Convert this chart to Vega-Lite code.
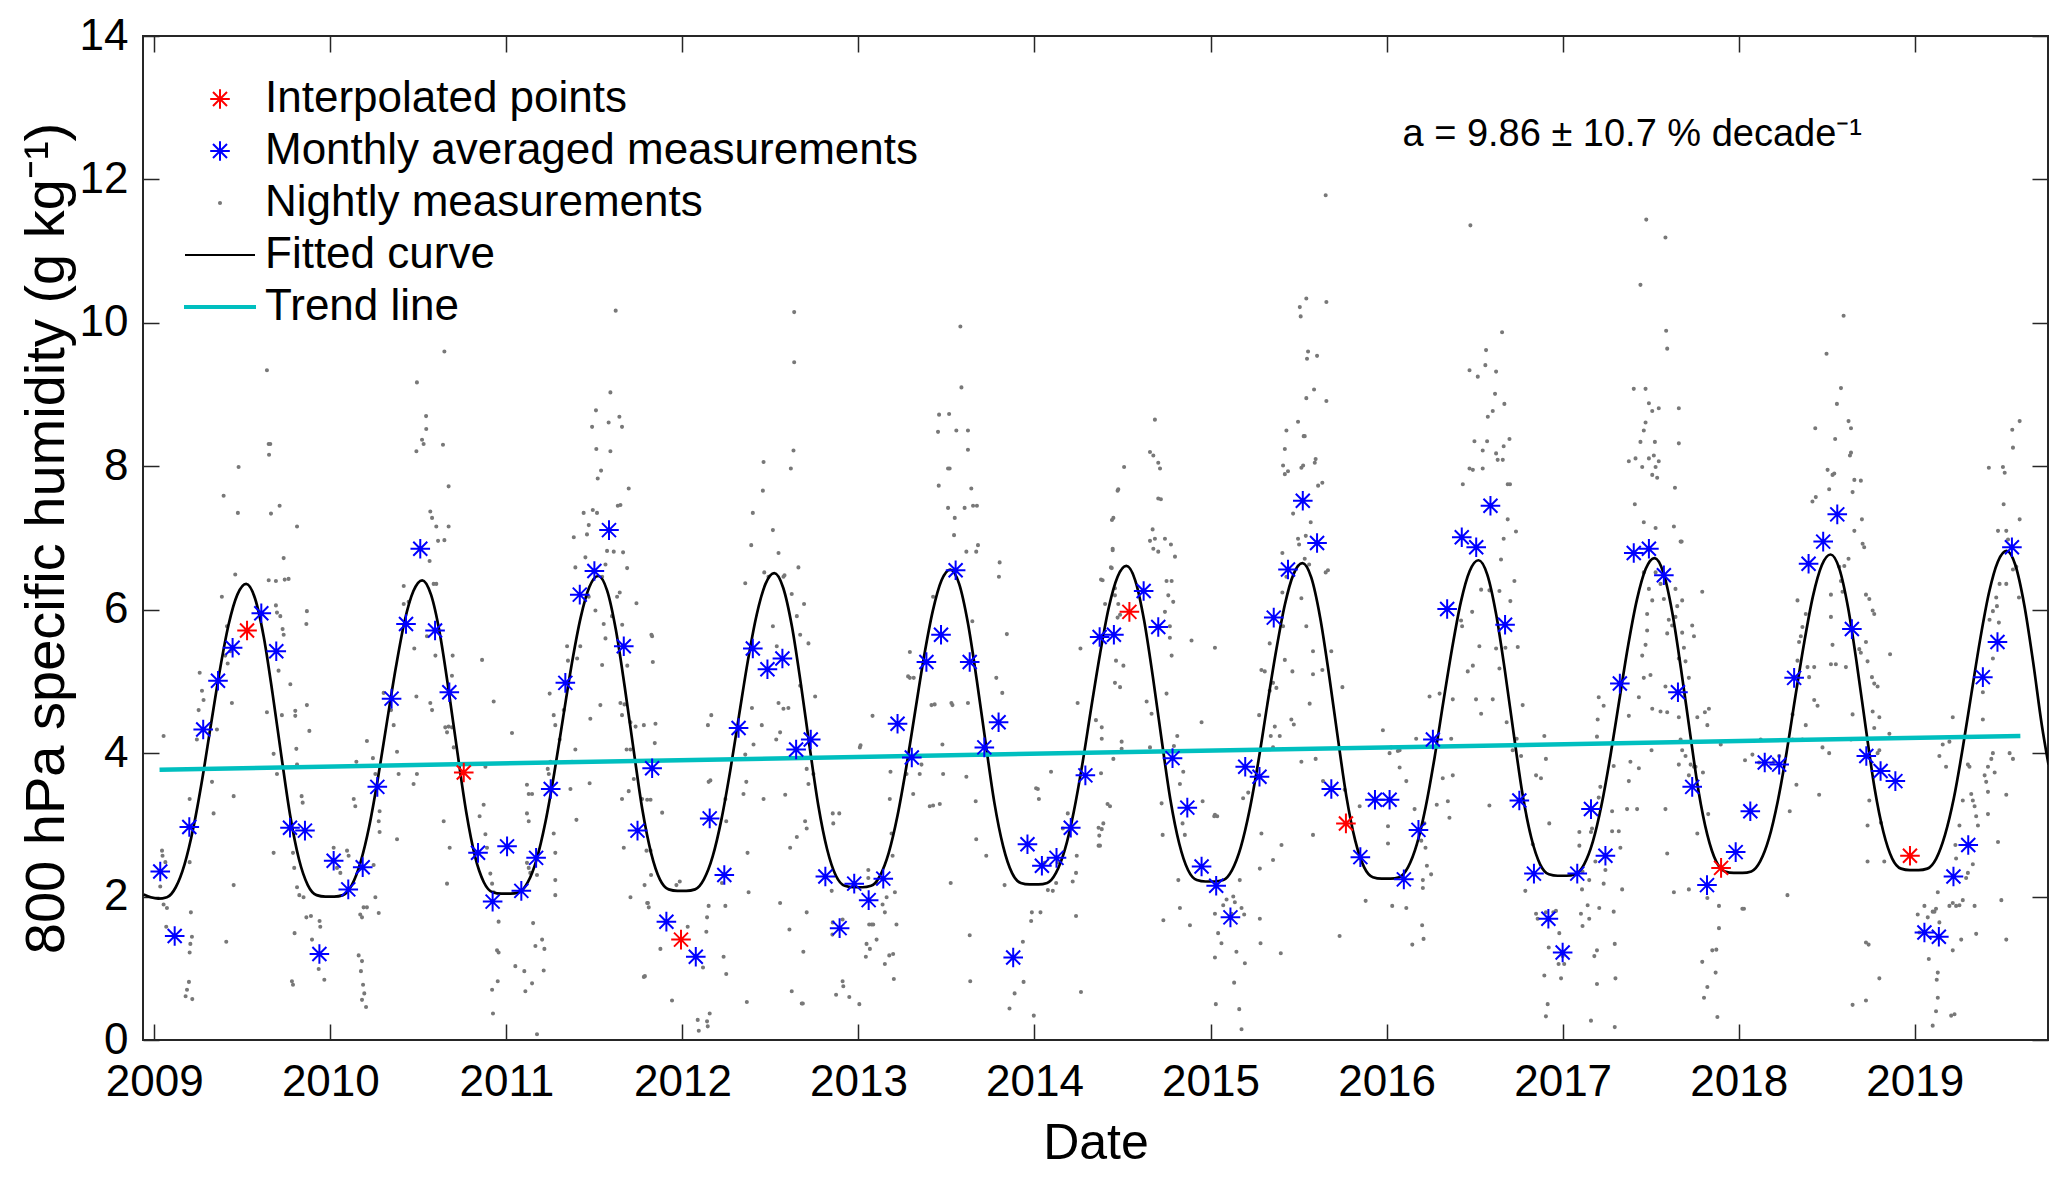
{
  "$schema": "https://vega.github.io/schema/vega-lite/v6.json",
  "description": "800 hPa specific humidity: nightly measurements, monthly averages, fitted seasonal curve and trend line, 2009-2019.",
  "width": 1905,
  "height": 1004,
  "autosize": {"type": "none"},
  "padding": {"left": 143, "top": 36, "right": 19, "bottom": 137},
  "background": "white",
  "datasets": {
    "nightly": [
      {"t":2009.053,"v":4.24},{"t":2009.044,"v":2.64},{"t":2009.047,"v":2.57},{"t":2009.063,"v":2.48},{"t":2009.034,"v":2.14},{"t":2009.053,"v":1.89},{"t":2009.072,"v":1.84},{"t":2009.068,"v":1.58},
      {"t":2009.201,"v":3.36},{"t":2009.201,"v":2.48},{"t":2009.208,"v":1.78},{"t":2009.214,"v":1.44},{"t":2009.205,"v":1.34},{"t":2009.201,"v":1.22},{"t":2009.197,"v":0.81},{"t":2009.186,"v":0.70},{"t":2009.178,"v":0.61},{"t":2009.216,"v":0.57},
      {"t":2009.258,"v":5.12},{"t":2009.271,"v":4.87},{"t":2009.280,"v":4.74},{"t":2009.252,"v":4.60},{"t":2009.242,"v":4.19},{"t":2009.328,"v":3.60},{"t":2009.337,"v":3.16},{"t":2009.356,"v":4.33},
      {"t":2009.384,"v":6.18},{"t":2009.394,"v":7.59},{"t":2009.403,"v":5.36},{"t":2009.417,"v":5.25},{"t":2009.432,"v":5.42},{"t":2009.413,"v":5.77},{"t":2009.441,"v":4.70},{"t":2009.451,"v":3.40},{"t":2009.460,"v":6.49},{"t":2009.475,"v":7.35},{"t":2009.479,"v":7.99},{"t":2009.451,"v":2.16},{"t":2009.409,"v":1.37},
      {"t":2009.650,"v":8.31},{"t":2009.659,"v":8.31},{"t":2009.652,"v":8.16},{"t":2009.640,"v":9.34},{"t":2009.663,"v":7.34},{"t":2009.712,"v":7.45},{"t":2009.691,"v":6.06},{"t":2009.697,"v":5.96},{"t":2009.716,"v":5.91},{"t":2009.650,"v":6.41},{"t":2009.691,"v":6.40},{"t":2009.741,"v":6.42},{"t":2009.763,"v":6.43},{"t":2009.735,"v":6.72},{"t":2009.729,"v":5.73},{"t":2009.735,"v":5.65},
      {"t":2009.706,"v":5.15},{"t":2009.678,"v":3.99},{"t":2009.697,"v":3.71},{"t":2009.678,"v":2.61},{"t":2009.640,"v":4.57},
      {"t":2009.725,"v":4.53},{"t":2009.773,"v":4.96},{"t":2009.801,"v":4.59},{"t":2009.801,"v":4.52},{"t":2009.807,"v":4.06},{"t":2009.811,"v":3.84},
      {"t":2009.811,"v":7.16},{"t":2009.867,"v":5.98},{"t":2009.864,"v":5.80},{"t":2009.867,"v":4.67},{"t":2009.881,"v":4.31},{"t":2009.837,"v":3.40},{"t":2009.843,"v":3.31},
      {"t":2009.788,"v":2.61},{"t":2009.795,"v":2.40},{"t":2009.824,"v":2.02},{"t":2009.848,"v":1.99},{"t":2009.811,"v":2.13},{"t":2009.864,"v":1.71},{"t":2009.890,"v":1.73},{"t":2009.939,"v":1.66},{"t":2009.896,"v":1.40},{"t":2009.943,"v":1.58},{"t":2009.934,"v":0.99},{"t":2009.797,"v":1.49},{"t":2009.782,"v":0.82},{"t":2009.788,"v":0.77},{"t":2009.966,"v":0.84},
      {"t":2010.019,"v":2.68},{"t":2010.095,"v":2.64},{"t":2010.104,"v":2.57},{"t":2010.038,"v":2.40},{"t":2010.057,"v":2.33},{"t":2010.133,"v":3.36},{"t":2010.142,"v":3.26},{"t":2010.148,"v":3.88},{"t":2010.208,"v":4.17},
      {"t":2010.161,"v":1.18},{"t":2010.180,"v":1.10},{"t":2010.174,"v":0.96},{"t":2010.186,"v":0.77},{"t":2010.193,"v":0.65},{"t":2010.180,"v":0.56},{"t":2010.203,"v":0.46},{"t":2010.170,"v":1.75},{"t":2010.189,"v":1.85},{"t":2010.208,"v":1.85},{"t":2010.180,"v":1.71},
      {"t":2010.242,"v":3.93},{"t":2010.256,"v":3.71},{"t":2010.280,"v":3.19},{"t":2010.275,"v":3.05},{"t":2010.280,"v":2.90},{"t":2010.246,"v":2.44},{"t":2010.256,"v":1.99},{"t":2010.275,"v":1.77},
      {"t":2010.303,"v":4.84},{"t":2010.345,"v":4.60},{"t":2010.360,"v":4.39},{"t":2010.379,"v":4.02},{"t":2010.388,"v":3.71},{"t":2010.379,"v":2.80},
      {"t":2010.417,"v":6.33},{"t":2010.417,"v":6.08},{"t":2010.445,"v":6.11},{"t":2010.477,"v":5.46},{"t":2010.489,"v":4.79},
      {"t":2010.492,"v":9.17},{"t":2010.544,"v":8.70},{"t":2010.545,"v":8.52},{"t":2010.521,"v":8.37},{"t":2010.530,"v":8.31},{"t":2010.489,"v":8.21},{"t":2010.640,"v":8.30},{"t":2010.648,"v":9.60},{"t":2010.672,"v":7.72},
      {"t":2010.568,"v":7.37},{"t":2010.578,"v":7.28},{"t":2010.602,"v":7.16},{"t":2010.612,"v":6.96},{"t":2010.648,"v":6.97},{"t":2010.672,"v":7.16},{"t":2010.564,"v":6.68},{"t":2010.587,"v":6.36},{"t":2010.602,"v":6.36},
      {"t":2010.549,"v":5.63},{"t":2010.597,"v":5.36},{"t":2010.473,"v":3.57},{"t":2010.492,"v":3.71},{"t":2010.568,"v":4.70},{"t":2010.578,"v":4.60},
      {"t":2010.653,"v":4.36},{"t":2010.663,"v":4.29},{"t":2010.672,"v":4.37},{"t":2010.695,"v":5.36},{"t":2010.691,"v":5.08},{"t":2010.691,"v":4.36},{"t":2010.701,"v":4.08},{"t":2010.644,"v":3.05},{"t":2010.678,"v":2.68},{"t":2010.663,"v":2.18},
      {"t":2010.862,"v":5.30},{"t":2010.928,"v":4.72},{"t":2011.032,"v":4.28},
      {"t":2010.881,"v":3.81},{"t":2010.871,"v":3.28},{"t":2010.848,"v":3.12},{"t":2010.881,"v":2.87},{"t":2010.890,"v":2.68},{"t":2010.909,"v":2.32},{"t":2010.919,"v":2.18},{"t":2010.928,"v":2.06},{"t":2010.956,"v":1.65},{"t":2010.947,"v":1.25},{"t":2010.956,"v":1.22},{"t":2010.951,"v":0.82},{"t":2010.919,"v":0.70},{"t":2010.924,"v":0.37},
      {"t":2011.117,"v":3.56},{"t":2011.127,"v":3.43},{"t":2011.146,"v":3.43},{"t":2011.117,"v":3.16},{"t":2011.127,"v":3.05},{"t":2011.117,"v":2.47},{"t":2011.127,"v":2.40},{"t":2011.136,"v":2.33},
      {"t":2011.051,"v":1.03},{"t":2011.102,"v":0.96},{"t":2011.108,"v":0.68},{"t":2011.146,"v":0.79},{"t":2011.152,"v":1.63},{"t":2011.165,"v":1.31},{"t":2011.174,"v":0.08},{"t":2011.203,"v":1.40},{"t":2011.216,"v":1.27},{"t":2011.212,"v":0.97},{"t":2011.174,"v":2.30},
      {"t":2011.241,"v":3.71},{"t":2011.235,"v":3.78},{"t":2011.250,"v":3.88},{"t":2011.269,"v":2.88},{"t":2011.278,"v":2.61},{"t":2011.278,"v":2.23},{"t":2011.278,"v":2.02},
      {"t":2011.246,"v":4.83},{"t":2011.269,"v":4.53},{"t":2011.278,"v":4.39},
      {"t":2011.303,"v":4.19},{"t":2011.326,"v":4.60},{"t":2011.345,"v":5.49},{"t":2011.350,"v":5.29},{"t":2011.402,"v":5.32},{"t":2011.383,"v":7.01},{"t":2011.420,"v":5.49},
      {"t":2011.392,"v":6.59},{"t":2011.449,"v":6.73},{"t":2011.468,"v":6.18},{"t":2011.473,"v":3.58},{"t":2011.364,"v":3.50},{"t":2011.373,"v":3.88},{"t":2011.392,"v":4.05},{"t":2011.398,"v":3.07},
      {"t":2011.439,"v":7.35},{"t":2011.458,"v":7.05},{"t":2011.468,"v":7.18},{"t":2011.491,"v":7.39},{"t":2011.515,"v":7.35},{"t":2011.519,"v":7.83},{"t":2011.538,"v":7.94},{"t":2011.591,"v":8.21},{"t":2011.511,"v":8.24},{"t":2011.487,"v":8.55},{"t":2011.509,"v":8.78},{"t":2011.581,"v":8.61},{"t":2011.591,"v":9.03},{"t":2011.642,"v":8.69},{"t":2011.657,"v":8.55},{"t":2011.621,"v":10.17},{"t":2011.633,"v":7.45},{"t":2011.648,"v":7.46},{"t":2011.695,"v":7.69},
      {"t":2011.544,"v":6.46},{"t":2011.563,"v":6.63},{"t":2011.572,"v":6.82},{"t":2011.610,"v":6.81},{"t":2011.663,"v":6.80},{"t":2011.686,"v":6.58},
      {"t":2011.506,"v":5.99},{"t":2011.553,"v":5.80},{"t":2011.563,"v":5.60},{"t":2011.544,"v":5.23},{"t":2011.600,"v":5.91},{"t":2011.629,"v":6.18},{"t":2011.644,"v":6.24},
      {"t":2011.534,"v":4.67},{"t":2011.477,"v":4.48},{"t":2011.648,"v":4.70},{"t":2011.657,"v":4.53},{"t":2011.705,"v":4.05},{"t":2011.695,"v":3.47},
      {"t":2011.657,"v":3.36},{"t":2011.667,"v":2.68},{"t":2011.705,"v":1.99},
      {"t":2011.658,"v":5.79},{"t":2011.687,"v":5.22},{"t":2011.671,"v":4.68},{"t":2011.705,"v":4.43},{"t":2011.683,"v":4.05},{"t":2011.734,"v":4.37},{"t":2011.781,"v":4.39},
      {"t":2011.847,"v":4.41},{"t":2011.824,"v":5.65},{"t":2011.828,"v":5.63},{"t":2011.832,"v":5.27},{"t":2011.843,"v":4.14},{"t":2011.739,"v":6.09},
      {"t":2011.724,"v":3.64},{"t":2011.771,"v":3.36},{"t":2011.800,"v":3.35},{"t":2011.819,"v":3.35},
      {"t":2011.796,"v":2.64},{"t":2011.819,"v":2.64},{"t":2011.885,"v":3.17},{"t":2011.804,"v":1.91},{"t":2011.800,"v":1.91},{"t":2011.809,"v":1.85},{"t":2011.785,"v":2.16},{"t":2011.822,"v":2.30},
      {"t":2011.875,"v":1.27},{"t":2011.787,"v":0.89},{"t":2011.781,"v":0.88},{"t":2011.941,"v":0.55},{"t":2011.966,"v":2.16},{"t":2011.985,"v":2.21},
      {"t":2012.030,"v":1.58},{"t":2012.087,"v":0.28},{"t":2012.093,"v":0.13},{"t":2012.140,"v":0.26},{"t":2012.144,"v":0.19},{"t":2012.155,"v":0.37},{"t":2012.117,"v":1.01},{"t":2012.136,"v":1.51},{"t":2012.149,"v":1.87},{"t":2012.140,"v":1.71},
      {"t":2012.234,"v":1.16},{"t":2012.249,"v":0.92},{"t":2012.244,"v":1.87},{"t":2012.149,"v":3.60},{"t":2012.159,"v":3.62},{"t":2012.164,"v":4.53},{"t":2012.145,"v":4.39},{"t":2012.225,"v":2.19},{"t":2012.249,"v":3.05},{"t":2012.244,"v":3.36},
      {"t":2012.363,"v":3.60},{"t":2012.357,"v":3.98},{"t":2012.347,"v":3.43},{"t":2012.370,"v":2.61},{"t":2012.376,"v":2.06},{"t":2012.366,"v":0.53},{"t":2012.395,"v":4.63},{"t":2012.404,"v":4.12},{"t":2012.357,"v":6.37},
      {"t":2012.391,"v":6.90},{"t":2012.400,"v":7.35},{"t":2012.457,"v":7.66},{"t":2012.461,"v":8.06},{"t":2012.514,"v":7.11},{"t":2012.546,"v":6.79},{"t":2012.616,"v":7.97},{"t":2012.631,"v":8.22},{"t":2012.635,"v":9.45},{"t":2012.635,"v":10.15},{"t":2012.659,"v":6.59},
      {"t":2012.465,"v":6.52},{"t":2012.489,"v":6.46},{"t":2012.514,"v":5.77},{"t":2012.536,"v":5.49},{"t":2012.574,"v":6.46},{"t":2012.580,"v":6.48},{"t":2012.621,"v":6.22},{"t":2012.650,"v":5.91},{"t":2012.669,"v":5.65},{"t":2012.691,"v":6.08},{"t":2012.716,"v":5.53},{"t":2012.669,"v":4.94},
      {"t":2012.451,"v":4.39},{"t":2012.533,"v":4.19},{"t":2012.555,"v":4.29},{"t":2012.574,"v":4.62},{"t":2012.602,"v":4.63},{"t":2012.546,"v":4.70},{"t":2012.461,"v":3.36},
      {"t":2012.584,"v":3.42},{"t":2012.555,"v":1.91},{"t":2012.608,"v":1.54},{"t":2012.621,"v":0.68},{"t":2012.678,"v":0.51},{"t":2012.612,"v":2.68},{"t":2012.650,"v":2.83},{"t":2012.706,"v":1.78},{"t":2012.687,"v":1.23},
      {"t":2012.706,"v":3.78},{"t":2012.716,"v":3.57},{"t":2012.744,"v":3.71},{"t":2012.697,"v":3.05},{"t":2012.706,"v":2.95},{"t":2012.754,"v":4.79},
      {"t":2012.854,"v":3.16},{"t":2012.891,"v":3.16},{"t":2012.857,"v":3.02},{"t":2012.848,"v":2.08},{"t":2013.008,"v":4.08},{"t":2013.012,"v":4.11},
      {"t":2012.854,"v":1.64},{"t":2012.852,"v":1.47},{"t":2012.910,"v":1.68},{"t":2012.873,"v":0.63},{"t":2012.910,"v":0.82},{"t":2012.914,"v":0.75},{"t":2012.948,"v":0.60},{"t":2013.005,"v":0.50},{"t":2012.684,"v":0.51},
      {"t":2013.056,"v":2.37},{"t":2013.056,"v":2.26},{"t":2013.061,"v":1.61},{"t":2013.075,"v":1.61},{"t":2013.084,"v":1.61},{"t":2013.103,"v":1.40},{"t":2013.065,"v":1.27},{"t":2013.046,"v":1.34},{"t":2013.042,"v":1.16},{"t":2013.150,"v":1.06},{"t":2013.175,"v":1.18},{"t":2013.197,"v":1.20},{"t":2013.201,"v":0.85},
      {"t":2013.103,"v":2.19},{"t":2013.137,"v":1.89},{"t":2013.150,"v":1.78},{"t":2013.160,"v":1.99},{"t":2013.216,"v":1.61},
      {"t":2013.080,"v":4.52},{"t":2013.182,"v":3.74},{"t":2013.178,"v":3.36},{"t":2013.188,"v":2.88},{"t":2013.194,"v":2.57},{"t":2013.207,"v":2.06},
      {"t":2013.282,"v":5.07},{"t":2013.292,"v":5.05},{"t":2013.314,"v":5.05},{"t":2013.292,"v":5.41},{"t":2013.273,"v":3.71},{"t":2013.311,"v":3.43},{"t":2013.348,"v":3.71},{"t":2013.358,"v":3.84},
      {"t":2013.415,"v":4.67},{"t":2013.433,"v":4.68},{"t":2013.424,"v":3.27},{"t":2013.405,"v":3.26},{"t":2013.477,"v":4.12},{"t":2013.481,"v":3.71},{"t":2013.462,"v":3.29},
      {"t":2013.424,"v":6.18},{"t":2013.452,"v":8.48},{"t":2013.458,"v":8.72},{"t":2013.515,"v":8.73},{"t":2013.509,"v":7.97},{"t":2013.518,"v":7.97},{"t":2013.579,"v":9.95},{"t":2013.585,"v":9.10},{"t":2013.556,"v":8.50},{"t":2013.622,"v":8.50},{"t":2013.622,"v":8.23},{"t":2013.641,"v":7.69},{"t":2013.673,"v":7.45},{"t":2013.679,"v":6.90},{"t":2013.651,"v":7.45},{"t":2013.603,"v":7.42},{"t":2013.547,"v":7.28},{"t":2013.456,"v":7.73},{"t":2013.509,"v":7.42},
      {"t":2013.528,"v":4.70},{"t":2013.534,"v":4.67},{"t":2013.543,"v":7.04},{"t":2013.613,"v":6.81},{"t":2013.669,"v":6.81},{"t":2013.647,"v":5.84},{"t":2013.622,"v":4.70},
      {"t":2013.613,"v":3.67},{"t":2013.666,"v":3.33},{"t":2013.669,"v":2.80},{"t":2013.726,"v":2.57},{"t":2013.632,"v":1.46},{"t":2013.635,"v":0.82},{"t":2013.524,"v":2.19},
      {"t":2013.783,"v":5.05},{"t":2013.817,"v":4.84},{"t":2013.798,"v":6.46},{"t":2013.802,"v":6.66},{"t":2013.843,"v":5.66},
      {"t":2013.830,"v":2.16},{"t":2013.858,"v":0.44},{"t":2013.887,"v":0.65},{"t":2013.934,"v":1.37},{"t":2013.938,"v":0.81},{"t":2013.981,"v":1.66},{"t":2013.985,"v":1.78},{"t":2014.009,"v":3.51},{"t":2014.019,"v":3.50},{"t":2014.025,"v":3.36},{"t":2013.996,"v":0.34},
      {"t":2014.034,"v":1.78},{"t":2014.076,"v":2.09},{"t":2014.057,"v":2.47},{"t":2014.104,"v":2.08},{"t":2014.123,"v":2.19},{"t":2014.132,"v":2.48},{"t":2014.217,"v":2.21},{"t":2014.236,"v":2.33},{"t":2014.236,"v":1.73},{"t":2014.264,"v":0.67},{"t":2014.240,"v":2.57},
      {"t":2014.094,"v":3.74},{"t":2014.161,"v":2.95},{"t":2014.189,"v":3.16},{"t":2014.245,"v":4.70},{"t":2014.261,"v":5.46},
      {"t":2014.364,"v":2.96},{"t":2014.364,"v":2.71},{"t":2014.368,"v":2.85},{"t":2014.378,"v":3.72},{"t":2014.349,"v":4.46},{"t":2014.378,"v":6.42},{"t":2014.434,"v":6.59},{"t":2014.444,"v":6.83},{"t":2014.440,"v":7.25},{"t":2014.472,"v":7.66},{"t":2014.457,"v":6.30},{"t":2014.472,"v":5.89},{"t":2014.463,"v":5.29},{"t":2014.415,"v":3.29},
      {"t":2014.509,"v":7.99},{"t":2014.476,"v":7.68},{"t":2014.448,"v":7.28},{"t":2014.444,"v":6.85},{"t":2014.439,"v":6.58},{"t":2014.387,"v":6.41},{"t":2014.457,"v":6.20},{"t":2014.401,"v":6.08},{"t":2014.476,"v":6.08},{"t":2014.486,"v":5.93},{"t":2014.505,"v":5.22},{"t":2014.457,"v":4.98},{"t":2014.486,"v":4.92},{"t":2014.382,"v":4.36},{"t":2014.429,"v":3.26},{"t":2014.391,"v":3.02},{"t":2014.382,"v":2.94},{"t":2014.372,"v":2.71},{"t":2014.448,"v":3.92},{"t":2014.495,"v":4.16},{"t":2014.495,"v":4.06},{"t":2014.382,"v":4.20},
      {"t":2014.684,"v":8.65},{"t":2014.656,"v":8.20},{"t":2014.675,"v":8.15},{"t":2014.703,"v":8.05},{"t":2014.713,"v":7.97},{"t":2014.703,"v":7.55},{"t":2014.718,"v":7.54},{"t":2014.671,"v":7.12},{"t":2014.684,"v":6.99},{"t":2014.656,"v":6.96},{"t":2014.675,"v":6.85},{"t":2014.703,"v":6.81},{"t":2014.741,"v":6.99},{"t":2014.775,"v":6.91},{"t":2014.798,"v":6.74},{"t":2014.750,"v":6.40},{"t":2014.779,"v":6.40},{"t":2014.760,"v":6.20},{"t":2014.741,"v":5.97},{"t":2014.788,"v":6.11},{"t":2014.769,"v":5.77},{"t":2014.769,"v":5.61},{"t":2014.779,"v":5.36},{"t":2014.637,"v":4.72},{"t":2014.665,"v":4.55},{"t":2014.656,"v":4.08},{"t":2014.750,"v":4.83},{"t":2014.722,"v":3.30},{"t":2014.728,"v":2.86},{"t":2014.732,"v":1.67},{"t":2014.792,"v":4.10},{"t":2014.811,"v":4.24},{"t":2014.826,"v":3.57},{"t":2014.845,"v":3.74},{"t":2014.841,"v":3.02},{"t":2014.854,"v":2.86},{"t":2014.817,"v":2.23},{"t":2014.826,"v":1.84},{"t":2014.883,"v":1.60},{"t":2014.892,"v":5.57},{"t":2014.949,"v":4.43},{"t":2014.955,"v":3.33},
      {"t":2015.025,"v":5.47},{"t":2015.025,"v":3.14},{"t":2015.038,"v":3.12},{"t":2015.021,"v":3.12},{"t":2015.025,"v":1.76},{"t":2015.030,"v":0.50},{"t":2015.043,"v":1.49},{"t":2015.025,"v":1.15},{"t":2015.062,"v":1.35},{"t":2015.072,"v":1.88},{"t":2015.091,"v":1.96},{"t":2015.119,"v":1.76},{"t":2015.129,"v":2.00},{"t":2015.138,"v":1.92},{"t":2015.147,"v":1.23},{"t":2015.134,"v":0.80},{"t":2015.163,"v":0.43},{"t":2015.176,"v":0.15},{"t":2015.166,"v":2.23},{"t":2015.176,"v":1.84},{"t":2015.191,"v":1.75},{"t":2015.195,"v":1.07},{"t":2015.185,"v":3.37},{"t":2015.214,"v":3.45},{"t":2015.280,"v":1.69},{"t":2015.284,"v":1.35},{"t":2015.280,"v":2.39},{"t":2015.289,"v":2.88},{"t":2015.276,"v":4.53},{"t":2015.289,"v":5.16},{"t":2015.308,"v":5.14},{"t":2015.336,"v":5.53},{"t":2015.355,"v":4.98},{"t":2015.336,"v":4.87},{"t":2015.342,"v":4.24},{"t":2015.365,"v":4.37},{"t":2015.393,"v":4.24},{"t":2015.355,"v":2.51},{"t":2015.403,"v":2.72},{"t":2015.399,"v":1.21},
      {"t":2015.422,"v":8.24},{"t":2015.412,"v":8.01},{"t":2015.431,"v":8.50},{"t":2015.497,"v":8.62},{"t":2015.529,"v":8.42},{"t":2015.535,"v":8.42},{"t":2015.516,"v":7.98},{"t":2015.526,"v":8.01},{"t":2015.597,"v":8.10},{"t":2015.592,"v":8.05},{"t":2015.611,"v":7.73},{"t":2015.635,"v":7.77},{"t":2015.658,"v":8.91},{"t":2015.658,"v":10.29},{"t":2015.654,"v":11.78},{"t":2015.605,"v":9.54},{"t":2015.554,"v":9.60},{"t":2015.548,"v":9.50},{"t":2015.507,"v":10.22},{"t":2015.512,"v":10.09},{"t":2015.544,"v":10.34},{"t":2015.588,"v":9.07},{"t":2015.544,"v":8.95},{"t":2015.422,"v":7.89},{"t":2015.440,"v":7.93},{"t":2015.497,"v":6.99},{"t":2015.503,"v":6.91},{"t":2015.469,"v":7.34},{"t":2015.541,"v":7.03},{"t":2015.535,"v":6.71},{"t":2015.569,"v":7.22},{"t":2015.560,"v":6.63},{"t":2015.516,"v":6.16},{"t":2015.544,"v":5.77},{"t":2015.582,"v":5.42},{"t":2015.635,"v":5.16},{"t":2015.582,"v":5.10},{"t":2015.465,"v":5.14},{"t":2015.422,"v":5.30},{"t":2015.431,"v":6.46},{"t":2015.408,"v":6.24},{"t":2015.408,"v":6.79},{"t":2015.412,"v":5.77},{"t":2015.374,"v":4.91},{"t":2015.355,"v":4.08},{"t":2015.459,"v":4.47},{"t":2015.473,"v":4.40},{"t":2015.516,"v":3.88},{"t":2015.563,"v":4.69},{"t":2015.597,"v":3.92},{"t":2015.639,"v":3.61},{"t":2015.667,"v":6.55},{"t":2015.654,"v":6.52},{"t":2015.686,"v":5.42},{"t":2015.749,"v":4.92},{"t":2015.762,"v":3.49},{"t":2015.733,"v":1.45},{"t":2015.847,"v":3.26},{"t":2015.582,"v":2.86},
      {"t":2015.979,"v":4.32},{"t":2016.017,"v":4.00},{"t":2016.026,"v":4.08},{"t":2016.064,"v":4.03},{"t":2016.074,"v":4.04},{"t":2016.008,"v":2.98},{"t":2016.008,"v":2.74},{"t":2016.032,"v":1.87},{"t":2016.112,"v":1.84},{"t":2016.146,"v":1.33},{"t":2016.202,"v":1.60},{"t":2016.210,"v":1.41},{"t":2016.206,"v":2.12},{"t":2016.197,"v":2.78},{"t":2016.215,"v":3.02},{"t":2016.221,"v":2.68},{"t":2016.229,"v":2.43},{"t":2016.253,"v":2.31},{"t":2016.074,"v":3.80},{"t":2016.112,"v":3.61},{"t":2016.159,"v":3.22},{"t":2016.206,"v":2.23},{"t":2016.244,"v":4.79},{"t":2016.301,"v":4.83},{"t":2016.285,"v":3.28},{"t":2016.319,"v":3.65},{"t":2016.367,"v":4.20},{"t":2016.376,"v":3.69},{"t":2016.348,"v":3.33},{"t":2016.357,"v":3.10},{"t":2016.168,"v":4.20},{"t":2015.881,"v":1.94},
      {"t":2016.471,"v":9.34},{"t":2016.518,"v":9.25},{"t":2016.565,"v":9.62},{"t":2016.561,"v":9.41},{"t":2016.622,"v":9.32},{"t":2016.616,"v":9.01},{"t":2016.603,"v":8.77},{"t":2016.575,"v":8.69},{"t":2016.669,"v":8.87},{"t":2016.656,"v":9.87},{"t":2016.476,"v":11.36},{"t":2016.433,"v":7.75},{"t":2016.471,"v":7.97},{"t":2016.490,"v":7.95},{"t":2016.499,"v":8.35},{"t":2016.546,"v":7.97},{"t":2016.571,"v":8.35},{"t":2016.546,"v":8.22},{"t":2016.622,"v":8.18},{"t":2016.665,"v":8.28},{"t":2016.698,"v":8.38},{"t":2016.688,"v":7.75},{"t":2016.701,"v":7.75},{"t":2016.631,"v":8.09},{"t":2016.660,"v":8.09},{"t":2016.735,"v":7.09},{"t":2016.688,"v":7.26},{"t":2016.650,"v":6.70},{"t":2016.665,"v":6.99},{"t":2016.584,"v":6.27},{"t":2016.641,"v":6.26},{"t":2016.726,"v":6.40},{"t":2016.703,"v":6.12},{"t":2016.461,"v":5.14},{"t":2016.490,"v":5.22},{"t":2016.527,"v":5.49},{"t":2016.508,"v":4.75},{"t":2016.537,"v":4.55},{"t":2016.584,"v":3.27},{"t":2016.622,"v":5.46},{"t":2016.675,"v":5.47},{"t":2016.603,"v":4.75},{"t":2016.641,"v":5.18},{"t":2016.682,"v":4.43},{"t":2016.745,"v":5.48},{"t":2016.739,"v":4.20},{"t":2016.773,"v":4.67},{"t":2016.764,"v":3.96},{"t":2016.716,"v":4.04},{"t":2016.423,"v":5.85},{"t":2016.429,"v":5.77},{"t":2016.376,"v":4.75},{"t":2016.486,"v":5.97},{"t":2016.537,"v":6.28},
      {"t":2016.788,"v":2.08},{"t":2016.830,"v":2.73},{"t":2016.849,"v":3.69},{"t":2016.877,"v":3.65},{"t":2016.896,"v":4.24},{"t":2016.905,"v":3.92},{"t":2016.924,"v":3.02},{"t":2016.849,"v":1.76},{"t":2016.858,"v":1.69},{"t":2016.905,"v":1.78},{"t":2016.947,"v":1.78},{"t":2016.921,"v":1.29},{"t":2016.896,"v":0.90},{"t":2016.915,"v":0.50},{"t":2016.905,"v":0.33},{"t":2016.962,"v":1.80},{"t":2016.981,"v":1.49},{"t":2016.977,"v":1.06},{"t":2017.000,"v":1.17},{"t":2016.991,"v":0.86},{"t":2017.009,"v":1.06},{"t":2017.104,"v":1.76},{"t":2017.113,"v":1.59},{"t":2017.142,"v":1.88},{"t":2017.151,"v":1.69},{"t":2017.161,"v":0.27},{"t":2017.180,"v":1.17},{"t":2017.095,"v":2.71},{"t":2017.113,"v":2.35},{"t":2017.095,"v":2.90},{"t":2017.199,"v":4.47},{"t":2017.208,"v":1.84},{"t":2017.151,"v":2.23},{"t":2017.161,"v":2.90},
      {"t":2017.110,"v":2.10},{"t":2017.195,"v":1.25},{"t":2017.195,"v":0.78},{"t":2017.186,"v":2.49},{"t":2017.167,"v":2.95},{"t":2017.205,"v":3.38},{"t":2017.195,"v":4.23},{"t":2017.214,"v":3.53},{"t":2017.233,"v":4.66},{"t":2017.205,"v":4.78},{"t":2017.290,"v":3.82},{"t":2017.281,"v":2.91},{"t":2017.319,"v":2.91},{"t":2017.328,"v":2.68},{"t":2017.281,"v":3.19},{"t":2017.243,"v":2.37},{"t":2017.233,"v":2.18},{"t":2017.290,"v":1.79},{"t":2017.296,"v":1.34},{"t":2017.300,"v":0.86},{"t":2017.296,"v":0.18},{"t":2017.338,"v":2.10},{"t":2017.366,"v":3.22},{"t":2017.376,"v":3.61},{"t":2017.385,"v":3.88},{"t":2017.433,"v":3.79},{"t":2017.423,"v":3.22},{"t":2017.376,"v":4.52},{"t":2017.433,"v":4.78},{"t":2017.471,"v":5.51},{"t":2017.461,"v":5.05},{"t":2017.499,"v":5.09},{"t":2017.509,"v":4.62},{"t":2017.505,"v":4.04},{"t":2017.556,"v":4.58},{"t":2017.584,"v":4.93},{"t":2017.594,"v":4.57},{"t":2017.660,"v":4.50},{"t":2017.670,"v":4.19},{"t":2017.660,"v":3.84},{"t":2017.679,"v":4.04},{"t":2017.698,"v":3.96},{"t":2017.727,"v":3.84},{"t":2017.746,"v":3.81},{"t":2017.755,"v":3.81},{"t":2017.797,"v":3.73},{"t":2017.765,"v":4.50},{"t":2017.808,"v":4.57},{"t":2017.831,"v":4.62},{"t":2017.822,"v":4.39},{"t":2017.717,"v":3.69},{"t":2017.765,"v":2.88},{"t":2017.827,"v":3.15},{"t":2017.717,"v":2.10},{"t":2017.594,"v":2.60},{"t":2017.632,"v":2.06},{"t":2017.584,"v":3.22},{"t":2017.793,"v":1.09},{"t":2017.822,"v":0.74},{"t":2017.822,"v":1.98},{"t":2017.888,"v":1.87},{"t":2017.888,"v":1.56},{"t":2017.873,"v":1.26},{"t":2017.869,"v":0.94},{"t":2017.879,"v":0.32},{"t":2017.850,"v":1.25},{"t":2017.898,"v":4.12},{"t":2017.803,"v":0.59},
      {"t":2017.793,"v":6.25},{"t":2017.679,"v":5.68},{"t":2017.689,"v":5.47},{"t":2017.698,"v":5.28},{"t":2017.717,"v":5.05},{"t":2017.660,"v":5.32},{"t":2017.641,"v":5.90},{"t":2017.651,"v":6.05},{"t":2017.622,"v":5.78},{"t":2017.594,"v":5.67},{"t":2017.603,"v":5.86},{"t":2017.575,"v":6.15},{"t":2017.556,"v":6.36},{"t":2017.528,"v":6.52},{"t":2017.490,"v":6.29},{"t":2017.461,"v":6.52},{"t":2017.461,"v":7.22},{"t":2017.528,"v":7.14},{"t":2017.509,"v":6.13},{"t":2017.480,"v":5.94},{"t":2017.480,"v":5.71},{"t":2017.452,"v":5.36},{"t":2017.509,"v":7.88},{"t":2017.528,"v":7.99},{"t":2017.546,"v":8.07},{"t":2017.537,"v":7.84},{"t":2017.518,"v":8.15},{"t":2017.490,"v":8.11},{"t":2017.452,"v":7.99},{"t":2017.414,"v":8.11},{"t":2017.376,"v":8.07},{"t":2017.410,"v":7.47},{"t":2017.442,"v":8.34},{"t":2017.461,"v":8.50},{"t":2017.471,"v":8.61},{"t":2017.490,"v":8.88},{"t":2017.509,"v":8.77},{"t":2017.546,"v":8.81},{"t":2017.524,"v":8.34},{"t":2017.404,"v":9.08},{"t":2017.471,"v":9.08},{"t":2017.442,"v":10.53},{"t":2017.475,"v":11.44},{"t":2017.584,"v":11.19},{"t":2017.588,"v":9.89},{"t":2017.594,"v":9.64},{"t":2017.660,"v":8.81},{"t":2017.660,"v":8.32},{"t":2017.638,"v":7.70},{"t":2017.632,"v":7.16},{"t":2017.676,"v":6.95},{"t":2017.670,"v":6.95},{"t":2017.641,"v":6.29},{"t":2017.679,"v":6.13},{"t":2017.736,"v":5.78},{"t":2017.746,"v":5.63},
      {"t":2018.030,"v":1.83},{"t":2018.021,"v":1.83},{"t":2018.078,"v":3.98},{"t":2018.036,"v":3.90},{"t":2018.116,"v":3.87},{"t":2018.125,"v":4.19},{"t":2018.144,"v":3.84},{"t":2018.201,"v":3.88},{"t":2018.230,"v":3.96},{"t":2018.277,"v":2.02},{"t":2018.290,"v":3.19},{"t":2018.328,"v":3.56},{"t":2018.306,"v":4.19},{"t":2018.306,"v":4.54},{"t":2018.334,"v":5.29},{"t":2018.343,"v":5.55},{"t":2018.353,"v":5.63},{"t":2018.362,"v":5.76},{"t":2018.381,"v":5.94},{"t":2018.391,"v":5.20},{"t":2018.400,"v":5.06},{"t":2018.334,"v":6.13},{"t":2018.362,"v":4.19},{"t":2018.381,"v":4.39},{"t":2018.429,"v":4.74},{"t":2018.448,"v":4.66},{"t":2018.429,"v":5.20},{"t":2018.419,"v":7.51},{"t":2018.438,"v":7.57},{"t":2018.435,"v":8.53},{"t":2018.505,"v":7.95},{"t":2018.514,"v":7.68},{"t":2018.533,"v":7.88},{"t":2018.543,"v":7.90},{"t":2018.548,"v":8.38},{"t":2018.558,"v":8.87},{"t":2018.581,"v":9.09},{"t":2018.596,"v":10.10},{"t":2018.499,"v":9.57},{"t":2018.624,"v":8.63},{"t":2018.638,"v":8.53},{"t":2018.638,"v":8.19},{"t":2018.632,"v":8.15},{"t":2018.647,"v":7.64},{"t":2018.657,"v":7.81},{"t":2018.694,"v":7.80},{"t":2018.700,"v":7.26},{"t":2018.704,"v":6.92},{"t":2018.713,"v":6.87},{"t":2018.723,"v":6.21},{"t":2018.742,"v":6.15},{"t":2018.761,"v":5.99},{"t":2018.770,"v":5.94},{"t":2018.657,"v":7.10},{"t":2018.624,"v":6.71},{"t":2018.600,"v":6.61},{"t":2018.590,"v":6.25},{"t":2018.581,"v":6.40},{"t":2018.571,"v":6.60},{"t":2018.524,"v":6.21},{"t":2018.524,"v":5.90},{"t":2018.533,"v":5.51},{"t":2018.524,"v":5.24},{"t":2018.552,"v":5.24},{"t":2018.609,"v":5.20},{"t":2018.647,"v":4.54},{"t":2018.638,"v":4.19},{"t":2018.685,"v":5.45},{"t":2018.694,"v":5.40},{"t":2018.723,"v":5.55},{"t":2018.732,"v":5.28},{"t":2018.757,"v":5.06},{"t":2018.770,"v":4.97},{"t":2018.789,"v":4.93},{"t":2018.761,"v":4.58},{"t":2018.770,"v":4.35},{"t":2018.799,"v":4.50},{"t":2018.799,"v":4.04},{"t":2018.856,"v":4.27},{"t":2018.860,"v":5.38},{"t":2018.789,"v":4.00},{"t":2018.742,"v":3.34},{"t":2018.732,"v":2.99},{"t":2018.808,"v":3.03},{"t":2018.827,"v":2.49},{"t":2018.732,"v":2.49},{"t":2018.723,"v":1.36},{"t":2018.738,"v":1.33},{"t":2018.799,"v":0.86},{"t":2018.723,"v":0.55},{"t":2018.647,"v":0.49},{"t":2018.457,"v":3.42},{"t":2018.514,"v":4.00},{"t":2018.476,"v":4.08},
      {"t":2019.017,"v":1.75},{"t":2019.027,"v":1.50},{"t":2019.055,"v":1.87},{"t":2019.074,"v":1.71},{"t":2019.080,"v":1.13},{"t":2019.102,"v":1.79},{"t":2019.112,"v":1.79},{"t":2019.121,"v":1.83},{"t":2019.131,"v":2.06},{"t":2019.140,"v":1.64},{"t":2019.131,"v":0.94},{"t":2019.125,"v":0.84},{"t":2019.131,"v":0.59},{"t":2019.121,"v":0.40},{"t":2019.102,"v":0.20},{"t":2019.197,"v":1.87},{"t":2019.216,"v":1.91},{"t":2019.216,"v":1.25},{"t":2019.207,"v":0.34},{"t":2019.226,"v":0.36},{"t":2019.235,"v":1.87},{"t":2019.254,"v":1.88},{"t":2019.264,"v":1.40},{"t":2019.273,"v":1.95},{"t":2019.292,"v":2.26},{"t":2019.302,"v":2.33},{"t":2019.330,"v":2.45},{"t":2019.340,"v":1.87},{"t":2019.349,"v":1.48},{"t":2019.235,"v":2.53},{"t":2019.231,"v":2.72},{"t":2019.254,"v":2.99},{"t":2019.273,"v":3.34},{"t":2019.302,"v":3.84},{"t":2019.311,"v":3.81},{"t":2019.321,"v":3.43},{"t":2019.330,"v":3.34},{"t":2019.340,"v":3.26},{"t":2019.349,"v":3.12},{"t":2019.359,"v":2.99},{"t":2019.387,"v":4.47},{"t":2019.397,"v":3.69},{"t":2019.406,"v":3.60},{"t":2019.416,"v":3.15},{"t":2019.416,"v":3.81},{"t":2019.435,"v":3.92},{"t":2019.444,"v":4.00},{"t":2019.454,"v":3.73},{"t":2019.473,"v":2.76},{"t":2019.492,"v":1.95},{"t":2019.520,"v":3.42},{"t":2019.520,"v":1.40},{"t":2019.539,"v":4.00},{"t":2019.558,"v":3.92},{"t":2019.421,"v":7.98},{"t":2019.501,"v":7.99},{"t":2019.511,"v":7.91},{"t":2019.505,"v":7.47},{"t":2019.520,"v":7.10},{"t":2019.463,"v":6.17},{"t":2019.467,"v":6.05},{"t":2019.482,"v":6.36},{"t":2019.520,"v":6.36},{"t":2019.558,"v":6.56},{"t":2019.577,"v":6.60},{"t":2019.592,"v":6.17},{"t":2019.596,"v":7.26},{"t":2019.558,"v":8.26},{"t":2019.554,"v":8.51},{"t":2019.596,"v":8.63},{"t":2019.473,"v":7.10},{"t":2019.530,"v":6.98},{"t":2019.425,"v":5.86},{"t":2019.478,"v":5.82},{"t":2019.444,"v":5.32},{"t":2019.387,"v":4.85},{"t":2019.444,"v":5.98},{"t":2019.416,"v":3.46},{"t":2019.216,"v":4.50},{"t":2019.197,"v":4.16},{"t":2019.178,"v":3.81},{"t":2019.140,"v":3.96},{"t":2019.159,"v":4.12}
    ],
    "monthly": [
      {"t":2009.034,"v":2.35,"s":"M"},{"t":2009.116,"v":1.45,"s":"M"},{"t":2009.199,"v":2.97,"s":"M"},{"t":2009.278,"v":4.33,"s":"M"},{"t":2009.362,"v":5.01,"s":"M"},{"t":2009.445,"v":5.47,"s":"M"},{"t":2009.527,"v":5.71,"s":"I"},{"t":2009.608,"v":5.95,"s":"M"},{"t":2009.693,"v":5.42,"s":"M"},{"t":2009.771,"v":2.96,"s":"M"},{"t":2009.856,"v":2.92,"s":"M"},{"t":2009.938,"v":1.20,"s":"M"},
      {"t":2010.019,"v":2.50,"s":"M"},{"t":2010.102,"v":2.10,"s":"M"},{"t":2010.184,"v":2.41,"s":"M"},{"t":2010.267,"v":3.53,"s":"M"},{"t":2010.348,"v":4.76,"s":"M"},{"t":2010.430,"v":5.80,"s":"M"},{"t":2010.511,"v":6.85,"s":"M"},{"t":2010.595,"v":5.71,"s":"M"},{"t":2010.676,"v":4.85,"s":"M"},{"t":2010.758,"v":3.73,"s":"I"},{"t":2010.839,"v":2.61,"s":"M"},{"t":2010.922,"v":1.93,"s":"M"},
      {"t":2011.004,"v":2.70,"s":"M"},{"t":2011.085,"v":2.08,"s":"M"},{"t":2011.169,"v":2.54,"s":"M"},{"t":2011.252,"v":3.50,"s":"M"},{"t":2011.335,"v":4.98,"s":"M"},{"t":2011.417,"v":6.21,"s":"M"},{"t":2011.500,"v":6.54,"s":"M"},{"t":2011.583,"v":7.11,"s":"M"},{"t":2011.667,"v":5.49,"s":"M"},{"t":2011.745,"v":2.92,"s":"M"},{"t":2011.828,"v":3.79,"s":"M"},{"t":2011.909,"v":1.65,"s":"M"},
      {"t":2011.992,"v":1.40,"s":"I"},{"t":2012.076,"v":1.16,"s":"M"},{"t":2012.155,"v":3.09,"s":"M"},{"t":2012.238,"v":2.30,"s":"M"},{"t":2012.319,"v":4.35,"s":"M"},{"t":2012.400,"v":5.46,"s":"M"},{"t":2012.483,"v":5.17,"s":"M"},{"t":2012.568,"v":5.32,"s":"M"},{"t":2012.646,"v":4.05,"s":"M"},{"t":2012.729,"v":4.19,"s":"M"},{"t":2012.812,"v":2.28,"s":"M"},{"t":2012.893,"v":1.56,"s":"M"},
      {"t":2012.976,"v":2.18,"s":"M"},{"t":2013.058,"v":1.95,"s":"M"},{"t":2013.141,"v":2.25,"s":"M"},{"t":2013.222,"v":4.41,"s":"M"},{"t":2013.303,"v":3.94,"s":"M"},{"t":2013.386,"v":5.27,"s":"M"},{"t":2013.469,"v":5.65,"s":"M"},{"t":2013.552,"v":6.55,"s":"M"},{"t":2013.632,"v":5.27,"s":"M"},{"t":2013.715,"v":4.08,"s":"M"},{"t":2013.796,"v":4.43,"s":"M"},{"t":2013.879,"v":1.15,"s":"M"},
      {"t":2013.960,"v":2.73,"s":"M"},{"t":2014.042,"v":2.43,"s":"M"},{"t":2014.125,"v":2.54,"s":"M"},{"t":2014.206,"v":2.96,"s":"M"},{"t":2014.289,"v":3.69,"s":"M"},{"t":2014.370,"v":5.62,"s":"M"},{"t":2014.451,"v":5.65,"s":"M"},{"t":2014.539,"v":5.97,"s":"I"},{"t":2014.620,"v":6.26,"s":"M"},{"t":2014.703,"v":5.76,"s":"M"},{"t":2014.784,"v":3.93,"s":"M"},{"t":2014.868,"v":3.24,"s":"M"},
      {"t":2014.949,"v":2.42,"s":"M"},{"t":2015.032,"v":2.15,"s":"M"},{"t":2015.113,"v":1.71,"s":"M"},{"t":2015.197,"v":3.81,"s":"M"},{"t":2015.278,"v":3.67,"s":"M"},{"t":2015.359,"v":5.89,"s":"M"},{"t":2015.440,"v":6.56,"s":"M"},{"t":2015.524,"v":7.52,"s":"M"},{"t":2015.605,"v":6.93,"s":"M"},{"t":2015.686,"v":3.50,"s":"M"},{"t":2015.769,"v":3.02,"s":"I"},{"t":2015.851,"v":2.55,"s":"M"},
      {"t":2015.934,"v":3.35,"s":"M"},{"t":2016.017,"v":3.35,"s":"M"},{"t":2016.098,"v":2.24,"s":"M"},{"t":2016.181,"v":2.93,"s":"M"},{"t":2016.263,"v":4.19,"s":"M"},{"t":2016.344,"v":6.01,"s":"M"},{"t":2016.427,"v":7.01,"s":"M"},{"t":2016.509,"v":6.87,"s":"M"},{"t":2016.590,"v":7.45,"s":"M"},{"t":2016.673,"v":5.79,"s":"M"},{"t":2016.754,"v":3.34,"s":"M"},{"t":2016.837,"v":2.32,"s":"M"},
      {"t":2016.919,"v":1.69,"s":"M"},{"t":2017.000,"v":1.22,"s":"M"},{"t":2017.083,"v":2.32,"s":"M"},{"t":2017.161,"v":3.22,"s":"M"},{"t":2017.243,"v":2.57,"s":"M"},{"t":2017.325,"v":4.97,"s":"M"},{"t":2017.404,"v":6.79,"s":"M"},{"t":2017.490,"v":6.85,"s":"M"},{"t":2017.575,"v":6.48,"s":"M"},{"t":2017.655,"v":4.85,"s":"M"},{"t":2017.736,"v":3.53,"s":"M"},{"t":2017.820,"v":2.16,"s":"M"},
      {"t":2017.900,"v":2.40,"s":"I"},{"t":2017.983,"v":2.62,"s":"M"},{"t":2018.066,"v":3.19,"s":"M"},{"t":2018.148,"v":3.87,"s":"M"},{"t":2018.230,"v":3.84,"s":"M"},{"t":2018.315,"v":5.05,"s":"M"},{"t":2018.397,"v":6.64,"s":"M"},{"t":2018.480,"v":6.95,"s":"M"},{"t":2018.560,"v":7.33,"s":"M"},{"t":2018.643,"v":5.73,"s":"M"},{"t":2018.725,"v":3.96,"s":"M"},{"t":2018.806,"v":3.75,"s":"M"},
      {"t":2018.890,"v":3.61,"s":"M"},{"t":2018.973,"v":2.57,"s":"I"},{"t":2019.055,"v":1.50,"s":"M"},{"t":2019.137,"v":1.44,"s":"M"},{"t":2019.220,"v":2.28,"s":"M"},{"t":2019.304,"v":2.72,"s":"M"},{"t":2019.387,"v":5.06,"s":"M"},{"t":2019.470,"v":5.55,"s":"M"},{"t":2019.552,"v":6.87,"s":"M"}
    ],
    "fitted": [
      {"t":2008.94,"v":2.03},{"t":2008.98,"v":1.99},
      {"t":2009.022,"v":1.97},{"t":2009.072,"v":1.99},{"t":2009.122,"v":2.13},{"t":2009.172,"v":2.45},{"t":2009.222,"v":2.96},{"t":2009.272,"v":3.63},{"t":2009.322,"v":4.40},{"t":2009.372,"v":5.15},{"t":2009.422,"v":5.79},{"t":2009.472,"v":6.21},{"t":2009.522,"v":6.36},
      {"t":2009.572,"v":6.16},{"t":2009.622,"v":5.62},{"t":2009.672,"v":4.83},{"t":2009.722,"v":3.96},{"t":2009.772,"v":3.13},{"t":2009.822,"v":2.52},{"t":2009.872,"v":2.16},{"t":2009.922,"v":2.02},{"t":2009.972,"v":2.00},
      {"t":2010.022,"v":2.00},{"t":2010.072,"v":2.02},{"t":2010.122,"v":2.16},{"t":2010.172,"v":2.48},{"t":2010.222,"v":2.99},{"t":2010.272,"v":3.67},{"t":2010.322,"v":4.44},{"t":2010.372,"v":5.19},{"t":2010.422,"v":5.84},{"t":2010.472,"v":6.26},{"t":2010.522,"v":6.41},
      {"t":2010.572,"v":6.21},{"t":2010.622,"v":5.67},{"t":2010.672,"v":4.88},{"t":2010.722,"v":4.01},{"t":2010.772,"v":3.18},{"t":2010.822,"v":2.56},{"t":2010.872,"v":2.20},{"t":2010.922,"v":2.06},{"t":2010.972,"v":2.04},
      {"t":2011.022,"v":2.04},{"t":2011.072,"v":2.06},{"t":2011.122,"v":2.20},{"t":2011.172,"v":2.52},{"t":2011.222,"v":3.04},{"t":2011.272,"v":3.72},{"t":2011.322,"v":4.49},{"t":2011.372,"v":5.25},{"t":2011.422,"v":5.89},{"t":2011.472,"v":6.32},{"t":2011.522,"v":6.47},
      {"t":2011.572,"v":6.27},{"t":2011.622,"v":5.72},{"t":2011.672,"v":4.93},{"t":2011.722,"v":4.06},{"t":2011.772,"v":3.22},{"t":2011.822,"v":2.61},{"t":2011.872,"v":2.24},{"t":2011.922,"v":2.10},{"t":2011.972,"v":2.08},
      {"t":2012.022,"v":2.08},{"t":2012.072,"v":2.10},{"t":2012.122,"v":2.24},{"t":2012.172,"v":2.56},{"t":2012.222,"v":3.08},{"t":2012.272,"v":3.76},{"t":2012.322,"v":4.53},{"t":2012.372,"v":5.29},{"t":2012.422,"v":5.93},{"t":2012.472,"v":6.36},{"t":2012.522,"v":6.51},
      {"t":2012.572,"v":6.31},{"t":2012.622,"v":5.77},{"t":2012.672,"v":4.98},{"t":2012.722,"v":4.10},{"t":2012.772,"v":3.27},{"t":2012.822,"v":2.66},{"t":2012.872,"v":2.29},{"t":2012.922,"v":2.15},{"t":2012.972,"v":2.13},
      {"t":2013.022,"v":2.13},{"t":2013.072,"v":2.15},{"t":2013.122,"v":2.29},{"t":2013.172,"v":2.61},{"t":2013.222,"v":3.13},{"t":2013.272,"v":3.81},{"t":2013.322,"v":4.58},{"t":2013.372,"v":5.34},{"t":2013.422,"v":5.98},{"t":2013.472,"v":6.41},{"t":2013.522,"v":6.56},
      {"t":2013.572,"v":6.36},{"t":2013.622,"v":5.81},{"t":2013.672,"v":5.02},{"t":2013.722,"v":4.15},{"t":2013.772,"v":3.31},{"t":2013.822,"v":2.70},{"t":2013.872,"v":2.33},{"t":2013.922,"v":2.19},{"t":2013.972,"v":2.17},
      {"t":2014.022,"v":2.17},{"t":2014.072,"v":2.19},{"t":2014.122,"v":2.33},{"t":2014.172,"v":2.65},{"t":2014.222,"v":3.17},{"t":2014.272,"v":3.85},{"t":2014.322,"v":4.63},{"t":2014.372,"v":5.38},{"t":2014.422,"v":6.03},{"t":2014.472,"v":6.46},{"t":2014.522,"v":6.61},
      {"t":2014.572,"v":6.41},{"t":2014.622,"v":5.86},{"t":2014.672,"v":5.07},{"t":2014.722,"v":4.19},{"t":2014.772,"v":3.35},{"t":2014.822,"v":2.74},{"t":2014.872,"v":2.37},{"t":2014.922,"v":2.23},{"t":2014.972,"v":2.21},
      {"t":2015.022,"v":2.21},{"t":2015.072,"v":2.23},{"t":2015.122,"v":2.37},{"t":2015.172,"v":2.69},{"t":2015.222,"v":3.21},{"t":2015.272,"v":3.89},{"t":2015.322,"v":4.67},{"t":2015.372,"v":5.42},{"t":2015.422,"v":6.07},{"t":2015.472,"v":6.50},{"t":2015.522,"v":6.65},
      {"t":2015.572,"v":6.45},{"t":2015.622,"v":5.90},{"t":2015.672,"v":5.11},{"t":2015.722,"v":4.23},{"t":2015.772,"v":3.39},{"t":2015.822,"v":2.78},{"t":2015.872,"v":2.41},{"t":2015.922,"v":2.27},{"t":2015.972,"v":2.25},
      {"t":2016.022,"v":2.25},{"t":2016.072,"v":2.27},{"t":2016.122,"v":2.41},{"t":2016.172,"v":2.73},{"t":2016.222,"v":3.25},{"t":2016.272,"v":3.93},{"t":2016.322,"v":4.71},{"t":2016.372,"v":5.46},{"t":2016.422,"v":6.11},{"t":2016.472,"v":6.54},{"t":2016.522,"v":6.69},
      {"t":2016.572,"v":6.49},{"t":2016.622,"v":5.94},{"t":2016.672,"v":5.15},{"t":2016.722,"v":4.27},{"t":2016.772,"v":3.43},{"t":2016.822,"v":2.82},{"t":2016.872,"v":2.45},{"t":2016.922,"v":2.31},{"t":2016.972,"v":2.29},
      {"t":2017.022,"v":2.29},{"t":2017.072,"v":2.31},{"t":2017.122,"v":2.45},{"t":2017.172,"v":2.77},{"t":2017.222,"v":3.29},{"t":2017.272,"v":3.97},{"t":2017.322,"v":4.74},{"t":2017.372,"v":5.50},{"t":2017.422,"v":6.14},{"t":2017.472,"v":6.57},{"t":2017.522,"v":6.72},
      {"t":2017.572,"v":6.52},{"t":2017.622,"v":5.97},{"t":2017.672,"v":5.18},{"t":2017.722,"v":4.31},{"t":2017.772,"v":3.47},{"t":2017.822,"v":2.86},{"t":2017.872,"v":2.49},{"t":2017.922,"v":2.35},{"t":2017.972,"v":2.33},
      {"t":2018.022,"v":2.33},{"t":2018.072,"v":2.35},{"t":2018.122,"v":2.49},{"t":2018.172,"v":2.81},{"t":2018.222,"v":3.33},{"t":2018.272,"v":4.01},{"t":2018.322,"v":4.79},{"t":2018.372,"v":5.54},{"t":2018.422,"v":6.19},{"t":2018.472,"v":6.62},{"t":2018.522,"v":6.77},
      {"t":2018.572,"v":6.57},{"t":2018.622,"v":6.02},{"t":2018.672,"v":5.23},{"t":2018.722,"v":4.35},{"t":2018.772,"v":3.51},{"t":2018.822,"v":2.90},{"t":2018.872,"v":2.53},{"t":2018.922,"v":2.39},{"t":2018.972,"v":2.37},
      {"t":2019.022,"v":2.37},{"t":2019.072,"v":2.39},{"t":2019.122,"v":2.53},{"t":2019.172,"v":2.86},{"t":2019.222,"v":3.37},{"t":2019.272,"v":4.06},{"t":2019.322,"v":4.83},{"t":2019.372,"v":5.59},{"t":2019.422,"v":6.24},{"t":2019.472,"v":6.67},{"t":2019.522,"v":6.82},
      {"t":2019.572,"v":6.62},{"t":2019.622,"v":6.07},{"t":2019.672,"v":5.28},{"t":2019.722,"v":4.39},{"t":2019.76,"v":3.84}
    ],
    "trend": [
      {"t":2009.03,"v":3.77},{"t":2019.6,"v":4.24}
    ]
  },
  "config": {
    "view": {"stroke": "#262626", "strokeWidth": 2},
    "font": "Liberation Sans",
    "axis": {
      "grid": false,
      "domain": false,
      "tickColor": "#262626",
      "tickWidth": 1.5,
      "tickSize": -16,
      "labelFont": "Liberation Sans",
      "labelFontSize": 44,
      "labelColor": "#000000",
      "titleFont": "Liberation Sans",
      "titleFontWeight": "normal",
      "titleColor": "#000000",
      "labelFlush": false,
      "labelOverlap": false
    },
    "legend": {
      "orient": "none",
      "legendX": 41,
      "legendY": 37,
      "padding": 0,
      "symbolSize": 4900,
      "symbolStrokeWidth": 2,
      "symbolOpacity": 1,
      "labelFont": "Liberation Sans",
      "labelFontSize": 44,
      "labelColor": "#000000",
      "labelLimit": 1000,
      "labelOffset": 9,
      "clipHeight": 52,
      "rowPadding": 0
    }
  },
  "layer": [
    {
      "data": {"name": "nightly"},
      "mark": {"type": "point", "filled": false, "size": 4900, "strokeWidth": 2, "opacity": 1, "clip": true},
      "encoding": {
        "x": {
          "field": "t", "type": "quantitative",
          "scale": {"domain": [2008.936, 2019.757], "nice": false, "zero": false},
          "axis": {"orient": "bottom", "values": [2009,2010,2011,2012,2013,2014,2015,2016,2017,2018,2019], "format": "d", "title": "Date", "titleFontSize": 50, "titlePadding": 14, "labelPadding": 36}
        },
        "y": {
          "field": "v", "type": "quantitative",
          "scale": {"domain": [0, 14], "nice": false, "zero": false},
          "axis": {"orient": "left", "values": [0,2,4,6,8,10,12,14], "title": "800 hPa specific humidity (g kg⁻¹)", "titleFontSize": 56, "titlePadding": 4, "labelPadding": 31}
        },
        "color": {
          "datum": "N", "type": "nominal",
          "scale": {"domain": ["I","M","N","F","T"], "range": ["#ff0000","#0000ff","#787878","#000000","#00bfbf"]},
          "legend": {
            "title": null,
            "labelExpr": "datum.label == 'I' ? 'Interpolated points' : datum.label == 'M' ? 'Monthly averaged measurements' : datum.label == 'N' ? 'Nightly measurements' : datum.label == 'F' ? 'Fitted curve' : 'Trend line'"
          }
        },
        "shape": {
          "datum": "N", "type": "nominal",
          "scale": {
            "domain": ["I","M","N","F","T"],
            "range": [
              "M0,-0.28V0.28M-0.28,0H0.28M-0.2,-0.2L0.2,0.2M-0.2,0.2L0.2,-0.2",
              "M0,-0.28V0.28M-0.28,0H0.28M-0.2,-0.2L0.2,0.2M-0.2,0.2L0.2,-0.2",
              "M-0.03,0A0.03,0.03,0,1,1,0.03,0A0.03,0.03,0,1,1,-0.03,0Z",
              "M-1,0H1",
              "M-1,-0.03H1V0.03H-1Z"
            ]
          },
          "legend": {
            "title": null,
            "labelExpr": "datum.label == 'I' ? 'Interpolated points' : datum.label == 'M' ? 'Monthly averaged measurements' : datum.label == 'N' ? 'Nightly measurements' : datum.label == 'F' ? 'Fitted curve' : 'Trend line'"
          }
        }
      }
    },
    {
      "data": {"name": "fitted"},
      "mark": {"type": "line", "strokeWidth": 2.7, "interpolate": "monotone", "clip": true},
      "encoding": {
        "x": {
          "field": "t", "type": "quantitative",
          "scale": {"domain": [2008.936, 2019.757], "nice": false, "zero": false},
          "axis": {"orient": "top", "values": [2009,2010,2011,2012,2013,2014,2015,2016,2017,2018,2019], "labels": false, "title": null}
        },
        "y": {
          "field": "v", "type": "quantitative",
          "scale": {"domain": [0, 14], "nice": false, "zero": false},
          "axis": {"orient": "right", "values": [0,2,4,6,8,10,12,14], "labels": false, "title": null}
        },
        "color": {"datum": "F", "type": "nominal", "legend": {"title": null}}
      }
    },
    {
      "data": {"name": "trend"},
      "mark": {"type": "line", "strokeWidth": 4.5, "clip": true},
      "encoding": {
        "x": {"field": "t", "type": "quantitative", "scale": {"domain": [2008.936, 2019.757], "nice": false, "zero": false}, "axis": null},
        "y": {"field": "v", "type": "quantitative", "scale": {"domain": [0, 14], "nice": false, "zero": false}, "axis": null},
        "color": {"datum": "T", "type": "nominal", "legend": {"title": null}}
      }
    },
    {
      "data": {"name": "monthly"},
      "mark": {"type": "point", "filled": false, "size": 4900, "strokeWidth": 2, "opacity": 1, "clip": true},
      "encoding": {
        "x": {"field": "t", "type": "quantitative", "scale": {"domain": [2008.936, 2019.757], "nice": false, "zero": false}, "axis": null},
        "y": {"field": "v", "type": "quantitative", "scale": {"domain": [0, 14], "nice": false, "zero": false}, "axis": null},
        "color": {"field": "s", "type": "nominal", "legend": {"title": null}},
        "shape": {"field": "s", "type": "nominal", "legend": {"title": null}}
      }
    },
    {
      "data": {"values": [{"label": "a = 9.86 ± 10.7 % decade⁻¹"}]},
      "mark": {"type": "text", "align": "left", "baseline": "middle", "fontSize": 38, "font": "Liberation Sans", "color": "#000000"},
      "encoding": {
        "x": {"datum": 2016.09, "type": "quantitative", "scale": {"domain": [2008.936, 2019.757], "nice": false, "zero": false}, "axis": null},
        "y": {"datum": 12.62, "type": "quantitative", "scale": {"domain": [0, 14], "nice": false, "zero": false}, "axis": null},
        "text": {"field": "label"}
      }
    }
  ],
  "resolve": {"axis": {"x": "independent", "y": "independent"}}
}
